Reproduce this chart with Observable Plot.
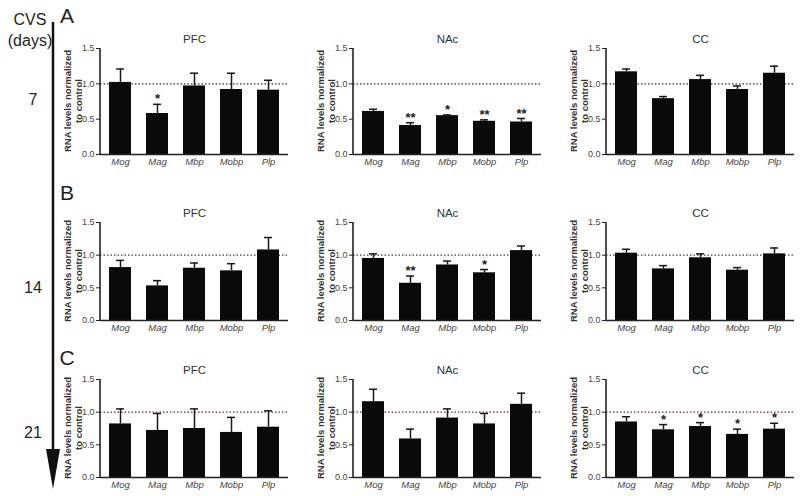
<!DOCTYPE html>
<html><head><meta charset="utf-8">
<script src="https://cdn.jsdelivr.net/npm/d3@7"></script>
<script src="https://cdn.jsdelivr.net/npm/@observablehq/plot@0.6"></script>
<style>
body{margin:0;background:#fff;font-family:"Liberation Sans",Arial,sans-serif;}
#root{position:relative;width:800px;height:496px;overflow:hidden;background:#fff;}
.panel{position:absolute;}
.lbl{position:absolute;color:#222;font-size:16px;transform:translate(-50%,-50%);white-space:nowrap;line-height:1.3;text-align:center;}
.letter{position:absolute;color:#222;font-size:21px;transform:translate(-50%,-50%);}
.ylab{position:absolute;color:#333;font-size:9.5px;font-weight:bold;line-height:11px;text-align:center;white-space:nowrap;transform:translate(-50%,-50%) rotate(-90deg);}
</style></head><body><div id="root"></div>
<script>
// ---- data ----
const genes = ["Mog", "Mag", "Mbp", "Mobp", "Plp"];
const regions = ["PFC", "NAc", "CC"];
const days = ["7", "14", "21"];
const panelLetters = ["A", "B", "C"];
const yTicks = [0, 0.5, 1.0, 1.5];
const yLabelLines = ["RNA levels normalized", "to control"];

// means per day, per region
const mean7_PFC = [1.02, 0.58, 0.97, 0.92, 0.91];
const mean7_NAc = [0.61, 0.41, 0.55, 0.47, 0.46];
const mean7_CC  = [1.17, 0.79, 1.06, 0.92, 1.15];
const mean14_PFC = [0.81, 0.53, 0.80, 0.76, 1.08];
const mean14_NAc = [0.95, 0.57, 0.85, 0.73, 1.07];
const mean14_CC  = [1.03, 0.79, 0.96, 0.77, 1.02];
const mean21_PFC = [0.82, 0.72, 0.75, 0.69, 0.77];
const mean21_NAc = [1.16, 0.59, 0.91, 0.82, 1.12];
const mean21_CC  = [0.85, 0.73, 0.78, 0.66, 0.74];

// SEM per day, per region
const sem7_PFC = [0.19, 0.13, 0.18, 0.23, 0.14];
const sem7_NAc = [0.03, 0.04, 0.01, 0.02, 0.05];
const sem7_CC  = [0.04, 0.03, 0.06, 0.05, 0.10];
const sem14_PFC = [0.11, 0.08, 0.08, 0.11, 0.19];
const sem14_NAc = [0.07, 0.11, 0.06, 0.05, 0.07];
const sem14_CC  = [0.06, 0.05, 0.06, 0.04, 0.09];
const sem21_PFC = [0.23, 0.26, 0.30, 0.23, 0.25];
const sem21_NAc = [0.19, 0.15, 0.14, 0.16, 0.17];
const sem21_CC  = [0.08, 0.08, 0.06, 0.08, 0.09];

// significance marks
const sig7_PFC = ["", "*", "", "", ""];
const sig7_NAc = ["", "**", "*", "**", "**"];
const sig7_CC  = ["", "", "", "", ""];
const sig14_PFC = ["", "", "", "", ""];
const sig14_NAc = ["", "**", "", "*", ""];
const sig14_CC  = ["", "", "", "", ""];
const sig21_PFC = ["", "", "", "", ""];
const sig21_NAc = ["", "", "", "", ""];
const sig21_CC  = ["", "*", "*", "*", "*"];

const means = [[mean7_PFC, mean7_NAc, mean7_CC], [mean14_PFC, mean14_NAc, mean14_CC], [mean21_PFC, mean21_NAc, mean21_CC]];
const sems = [[sem7_PFC, sem7_NAc, sem7_CC], [sem14_PFC, sem14_NAc, sem14_CC], [sem21_PFC, sem21_NAc, sem21_CC]];
const sigs = [[sig7_PFC, sig7_NAc, sig7_CC], [sig14_PFC, sig14_NAc, sig14_CC], [sig21_PFC, sig21_NAc, sig21_CC]];

// ---- layout ----
const colLeft = [30, 283, 536];
const rowTop = [18, 192, 349];
const rowFrameH = [106, 98, 98];
const dotColor = ["#333", "#6b2c2c", "#6b2c2c"];
const font = "Liberation Sans, Arial, sans-serif";
const mL = 70, mT = 30, mB = 18;

const root = document.getElementById("root");

function axisLine(index, scales, values, dims) {
  const l = d3.create("svg:line")
    .attr("x1", dims.marginLeft).attr("x2", dims.marginLeft)
    .attr("y1", dims.marginTop).attr("y2", dims.height - dims.marginBottom)
    .attr("stroke", "#222").attr("stroke-width", 1.6);
  return l.node();
}

for (let r = 0; r < 3; r++) {
  for (let c = 0; c < 3; c++) {
    const data = genes.map((g, i) => ({gene: g, mean: means[r][c][i], sem: sems[r][c][i], sig: sigs[r][c][i]}));
    const chart = Plot.plot({
      width: 262,
      height: mT + rowFrameH[r] + mB,
      marginTop: mT, marginBottom: mB, marginLeft: mL, marginRight: 4,
      style: {fontFamily: font, background: "transparent", overflow: "visible"},
      x: {domain: genes, paddingInner: 0.4, paddingOuter: 0.2, label: null},
      y: {domain: [0, 1.5], label: null},
      marks: [
        Plot.ruleY([1], {stroke: dotColor[r], strokeDasharray: "1.5,2", strokeWidth: 1.3}),
        Plot.barY(data, {x: "gene", y: "mean", fill: "#0a0a0a"}),
        Plot.ruleX(data, {x: "gene", y1: "mean", y2: d => d.mean + d.sem, stroke: "#1a1a1a", strokeWidth: 1.5}),
        Plot.tickY(data, {x: "gene", y: d => d.mean + d.sem, stroke: "#1a1a1a", strokeWidth: 1.5, insetLeft: 7, insetRight: 7}),
        Plot.text(data.filter(d => d.sig), {x: "gene", y: d => d.mean + d.sem, text: "sig", dy: -5, fontSize: 13, fontWeight: "bold", fill: "#222", lineAnchor: "middle"}),
        Plot.axisY({ticks: yTicks, tickFormat: d3.format(".1f"), tickSize: 4, tickPadding: 2, fontSize: 9, fill: "#444", stroke: "#222", label: null}),
        Plot.axisX({tickSize: 0, tickPadding: 4, fontSize: 9.5, fontStyle: "italic", fill: "#444", label: null}),
        Plot.ruleY([0], {stroke: "#222", strokeWidth: 1.6}),
        axisLine,
        Plot.text([regions[c]], {frameAnchor: "top", dy: -14, fontSize: 11.5, fill: "#333"})
      ]
    });
    chart.classList.add("panel");
    chart.style.left = colLeft[c] + "px";
    chart.style.top = rowTop[r] + "px";
    root.appendChild(chart);

    const yl = document.createElement("div");
    yl.className = "ylab";
    yl.innerHTML = yLabelLines.join("<br>");
    yl.style.left = (colLeft[c] + mL - 27) + "px";
    yl.style.top = (rowTop[r] + mT + rowFrameH[r] / 2) + "px";
    root.appendChild(yl);
  }
}

// left annotations
function addLabel(text, x, y, cls) {
  const d = document.createElement("div");
  d.className = cls;
  d.innerHTML = text;
  d.style.left = x + "px";
  d.style.top = y + "px";
  root.appendChild(d);
}
addLabel("CVS<br>(days)", 30, 31, "lbl");
const dayY = [100, 288, 433];
days.forEach((d, i) => addLabel(d, 33, dayY[i], "lbl"));
const letterY = [16, 193, 358];
panelLetters.forEach((l, i) => addLabel(l, 67, letterY[i], "letter"));

const arrow = d3.create("svg").attr("width", 110).attr("height", 496)
  .style("position", "absolute").style("left", "0px").style("top", "0px");
arrow.append("line").attr("x1", 53).attr("x2", 53).attr("y1", 22).attr("y2", 455)
  .attr("stroke", "#111").attr("stroke-width", 2.5);
arrow.append("path").attr("d", "M46,449 L60,449 L53,489 Z").attr("fill", "#111");
root.appendChild(arrow.node());
</script></body></html>
